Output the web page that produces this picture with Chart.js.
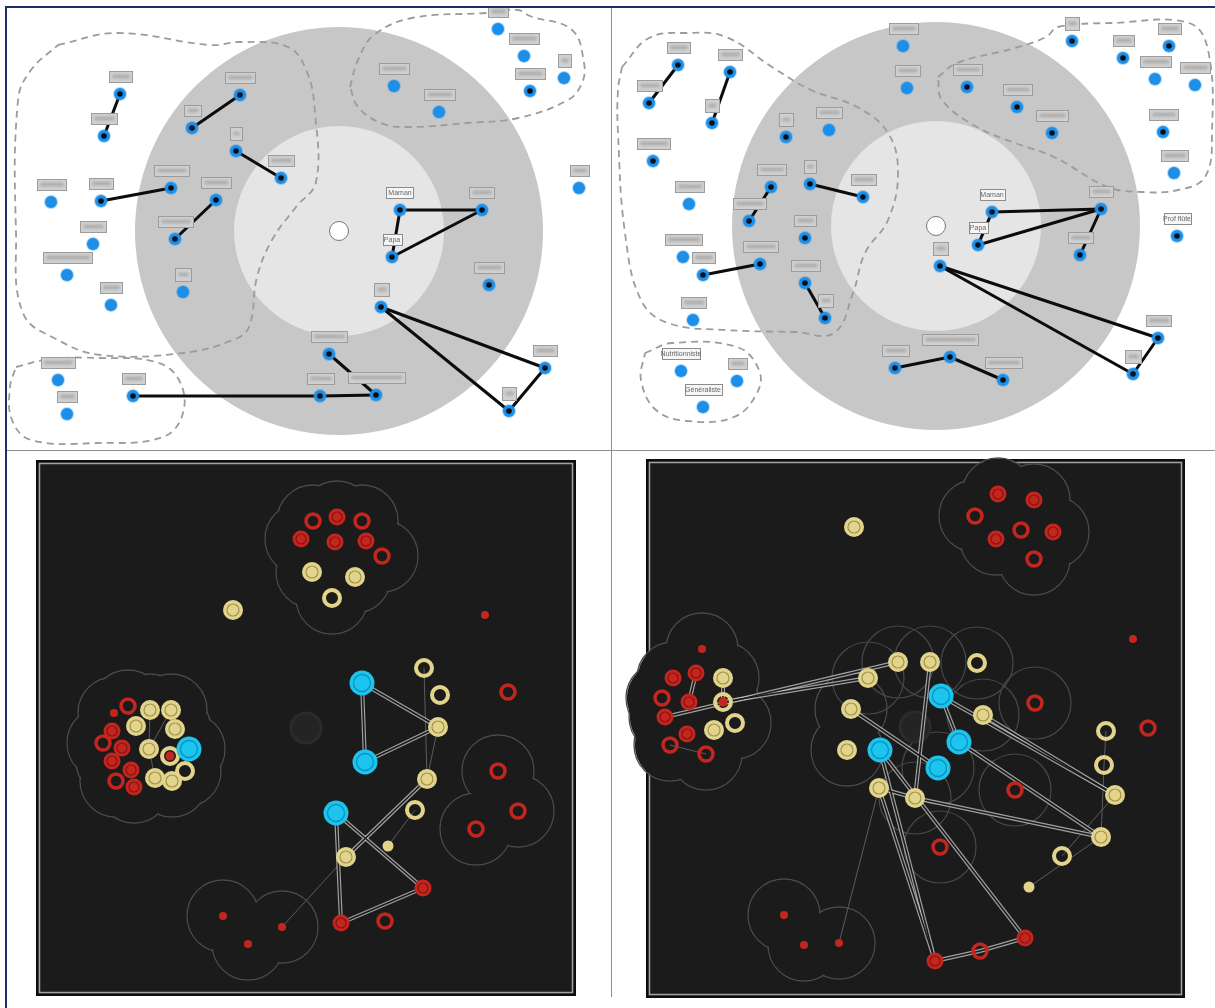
<!DOCTYPE html>
<html>
<head>
<meta charset="utf-8">
<script src="https://cdn.jsdelivr.net/npm/chart.js@4.4.1/dist/chart.umd.min.js"></script>
<style>
  body { margin: 0; background: #fff; width: 1215px; height: 1008px; position: relative; overflow: hidden; }
  canvas { position: absolute; }
  .rule { position: absolute; background: #8e8e8e; }
</style>
</head>
<body>
<canvas id="tl" width="610" height="450" style="left:0;top:0"></canvas>
<canvas id="tr" width="603" height="450" style="left:612px;top:0"></canvas>
<canvas id="bl" width="610" height="556" style="left:0;top:452px"></canvas>
<canvas id="br" width="603" height="556" style="left:612px;top:452px"></canvas>
<div class="rule" style="left:5px;top:6px;width:1210px;height:2px;background:#1b2f6b"></div>
<div class="rule" style="left:5px;top:6px;width:2px;height:1002px;background:#1b2f6b"></div>
<div class="rule" style="left:611px;top:8px;width:1px;height:989px"></div>
<div class="rule" style="left:7px;top:450px;width:1208px;height:1px"></div>
<script>
// --------- Top-left map (first interview) ---------
const tlDisc = [339, 231, 204, 105];   // centre x, centre y, outer radius, inner radius
// x, y, 1 = linked node (dark centre)
const tlNodes = [
  [120, 94, 1], [104, 136, 1], [240, 95, 1], [192, 128, 1], [236, 151, 1],
  [281, 178, 1], [171, 188, 1], [101, 201, 1], [216, 200, 1], [175, 239, 1],
  [400, 210, 1], [482, 210, 1], [392, 257, 1], [489, 285, 1], [381, 307, 1],
  [545, 368, 1], [509, 411, 1], [329, 354, 1], [376, 395, 1], [320, 396, 1],
  [133, 396, 1], [530, 91, 1], [51, 202, 0], [93, 244, 0], [67, 275, 0],
  [111, 305, 0], [183, 292, 0], [58, 380, 0], [67, 414, 0], [498, 29, 0],
  [524, 56, 0], [564, 78, 0], [394, 86, 0], [439, 112, 0], [579, 188, 0]
];
const tlLinks = [[0, 1], [2, 3], [4, 5], [6, 7], [8, 9], [10, 11], [11, 12], [10, 12],
  [14, 15], [14, 16], [15, 16], [17, 18], [20, 19], [19, 18]];
const tlTagWidths = [23, 26, 30, 17, 12, 26, 35, 24, 30, 35, 27, 25, 19, 30, 15, 24, 14, 36,
  57, 27, 23, 30, 29, 26, 49, 22, 16, 34, 20, 20, 30, 13, 30, 31, 19];
const tlTagText = { 10: "Maman", 12: "Papa" };
const tlHulls = [
  [[58, 45], [117, 33], [210, 45], [241, 42], [288, 47], [307, 72], [315, 113], [316, 182],
   [296, 207], [272, 240], [257, 277], [249, 327], [233, 340], [183, 353], [101, 355],
   [58, 340], [23, 313], [16, 233], [18, 100], [31, 70]],
  [[350, 87], [358, 60], [374, 35], [412, 18], [486, 13], [518, 10], [530, 16], [572, 30],
   [584, 63], [582, 83], [568, 100], [518, 118], [467, 123], [409, 127], [381, 123], [358, 107]],
  [[16, 367], [50, 359], [100, 358], [156, 362], [179, 380], [183, 413], [163, 437],
   [97, 443], [31, 440], [12, 420], [10, 387]]
];

// --------- Top-right map (second interview) ---------
const trDisc = [936, 226, 204, 105];
const trNodes = [
  [678, 65, 1], [649, 103, 1], [730, 72, 1], [712, 123, 1], [653, 161, 1],
  [786, 137, 1], [829, 130, 0], [903, 46, 0], [907, 88, 0], [967, 87, 1],
  [1017, 107, 1], [1052, 133, 1], [1072, 41, 1], [1123, 58, 1], [1169, 46, 1],
  [1155, 79, 0], [1195, 85, 0], [1163, 132, 1], [1174, 173, 0], [771, 187, 1],
  [749, 221, 1], [810, 184, 1], [863, 197, 1], [689, 204, 0], [805, 238, 1],
  [683, 257, 0], [703, 275, 1], [760, 264, 1], [805, 283, 1], [825, 318, 1],
  [693, 320, 0], [992, 212, 1], [1101, 209, 1], [978, 245, 1], [1080, 255, 1],
  [940, 266, 1], [1158, 338, 1], [1133, 374, 1], [1177, 236, 1], [895, 368, 1],
  [950, 357, 1], [1003, 380, 1], [681, 371, 0], [737, 381, 0], [703, 407, 0]
];
const trLinks = [[0, 1], [2, 3], [19, 20], [21, 22], [26, 27], [28, 29], [31, 32], [32, 33],
  [31, 33], [32, 34], [35, 36], [35, 37], [36, 37], [39, 40], [40, 41]];
const trTagWidths = [23, 25, 24, 14, 33, 14, 26, 29, 25, 29, 29, 32, 14, 21, 23, 31, 30, 29,
  27, 29, 33, 12, 25, 29, 22, 37, 23, 35, 29, 15, 25, 25, 24, 19, 25, 15, 25, 16, 27, 27,
  56, 37, 38, 19, 37];
const trTagText = { 31: "Maman", 33: "Papa", 38: "Prof flûte", 42: "Nutritionniste", 44: "Généraliste" };
const trHulls = [
  [[622, 67], [649, 38], [687, 33], [726, 37], [772, 67], [811, 90], [857, 107], [888, 133],
   [898, 173], [888, 220], [865, 253], [853, 293], [834, 333], [795, 332], [726, 330],
   [668, 323], [641, 300], [625, 233], [618, 133], [618, 90]],
  [[938, 77], [957, 63], [1015, 48], [1046, 37], [1058, 27], [1112, 23], [1189, 23],
   [1208, 50], [1212, 133], [1205, 177], [1178, 190], [1143, 192], [1108, 187],
   [1054, 157], [1015, 143], [977, 127], [942, 100]],
  [[645, 353], [672, 343], [737, 347], [759, 370], [757, 393], [734, 417], [687, 421],
   [656, 410], [641, 380]]
];

// --------- Bottom-left graph ---------
// kinds: Y yellow, y yellow ring, R red, r red ring, B blue, . red dot, , yellow dot, yr ring with red dot
const blNodes = [
  [337, 517, "R"], [313, 521, "r"], [362, 521, "r"], [301, 539, "R"], [335, 542, "R"],
  [366, 541, "R"], [382, 556, "r"], [312, 572, "Y"], [355, 577, "Y"], [332, 598, "y"],
  [233, 610, "Y"], [485, 615, "."], [128, 706, "r"], [114, 713, "."], [150, 710, "Y"],
  [171, 710, "Y"], [136, 726, "Y"], [175, 729, "Y"], [112, 731, "R"], [103, 743, "r"],
  [122, 748, "R"], [149, 749, "Y"], [170, 756, "yr"], [189, 749, "B"], [112, 761, "R"],
  [131, 770, "R"], [116, 781, "r"], [134, 787, "R"], [155, 778, "Y"], [172, 781, "Y"],
  [185, 771, "y"], [362, 683, "B"], [365, 762, "B"], [336, 813, "B"], [424, 668, "y"],
  [440, 695, "y"], [438, 727, "Y"], [427, 779, "Y"], [415, 810, "y"], [388, 846, ","],
  [346, 857, "Y"], [423, 888, "R"], [341, 923, "R"], [385, 921, "r"], [508, 692, "r"],
  [498, 771, "r"], [518, 811, "r"], [476, 829, "r"], [223, 916, "."], [248, 944, "."],
  [282, 927, "."]
];
const blDouble = [[31, 32], [31, 36], [32, 36], [37, 40], [33, 42], [33, 41], [41, 42]];
const blThin = [[34, 37], [36, 37], [40, 50], [38, 39], [14, 21], [15, 21], [21, 28]];
const blClouds = [[0, 1, 2, 3, 4, 5, 6, 7, 8, 9],
  [12, 13, 14, 15, 16, 17, 18, 19, 20, 21, 22, 23, 24, 25, 26, 27, 28, 29, 30],
  [45, 46, 47], [48, 49, 50]];
const blRings = [];
const blCentre = [306, 728];
const blBox = [36, 460, 576, 996];

// --------- Bottom-right graph ---------
const brNodes = [
  [854, 527, "Y"], [998, 494, "R"], [1034, 500, "R"], [975, 516, "r"], [1021, 530, "r"],
  [1053, 532, "R"], [996, 539, "R"], [1034, 559, "r"], [1133, 639, "."], [1148, 728, "r"],
  [702, 649, "."], [673, 678, "R"], [696, 673, "R"], [723, 678, "Y"], [662, 698, "r"],
  [689, 702, "R"], [723, 702, "yr"], [665, 717, "R"], [735, 723, "y"], [714, 730, "Y"],
  [687, 734, "R"], [670, 745, "r"], [706, 754, "r"], [898, 662, "Y"], [930, 662, "Y"],
  [977, 663, "y"], [868, 678, "Y"], [941, 696, "B"], [851, 709, "Y"], [983, 715, "Y"],
  [959, 742, "B"], [847, 750, "Y"], [880, 750, "B"], [938, 768, "B"], [879, 788, "Y"],
  [915, 798, "Y"], [1035, 703, "r"], [1015, 790, "r"], [940, 847, "r"], [1106, 731, "y"],
  [1104, 765, "y"], [1115, 795, "Y"], [1101, 837, "Y"], [1062, 856, "y"], [1029, 887, ","],
  [784, 915, "."], [804, 945, "."], [839, 943, "."], [935, 961, "R"], [980, 951, "r"],
  [1025, 938, "R"]
];
const brDouble = [[17, 23], [16, 26], [12, 15], [13, 16], [24, 35], [27, 30], [27, 41],
  [29, 41], [30, 42], [35, 42], [28, 33], [32, 48], [34, 48], [32, 50], [34, 35],
  [48, 49], [49, 50]];
const brThin = [[34, 47], [39, 40], [40, 42], [41, 43], [42, 44], [21, 22]];
const brClouds = [[1, 2, 3, 4, 5, 6, 7],
  [10, 11, 12, 13, 14, 15, 16, 17, 18, 19, 20, 21, 22],
  [45, 46, 47], [28, 31]];
const brRings = [23, 24, 25, 26, 29, 33, 35, 36, 37, 38];
const brCentre = [915, 727];
const brBox = [646, 459, 1185, 998];

// --------- Styles ---------
const DARK = "#1b1b1b";
const YEL = "#e2d58b";
const RED = "#c4261f";
const BLUE = "#1bc5f0";

const kindLayers = {
  Y: [{ r: 10, bg: YEL }, { r: 6, bc: "#a09353", bw: 1.2 }],
  y: [{ r: 8, bc: YEL, bw: 4 }],
  R: [{ r: 8.5, bg: RED }, { r: 5, bc: "#83150f", bw: 1.2 }],
  r: [{ r: 7, bc: RED, bw: 3.5 }],
  B: [{ r: 12.5, bg: BLUE }, { r: 8.5, bc: "#0f8fb3", bw: 1.3 }],
  ".": [{ r: 4, bg: RED }],
  ",": [{ r: 5.5, bg: YEL }],
  yr: [{ r: 8, bc: YEL, bw: 4 }, { r: 4.5, bg: RED }]
};

const pt = n => ({ x: n[0], y: n[1] });

function topDatasets(nodes, links, hulls, disc) {
  const ds = [];
  hulls.forEach(h => ds.push({
    data: h.concat([h[0]]).map(pt), showLine: true, tension: 0.4,
    borderColor: "#9c9c9c", borderWidth: 1.8, borderDash: [7, 5], pointRadius: 0, order: 9
  }));
  links.forEach(([a, b]) => ds.push({
    data: [pt(nodes[a]), pt(nodes[b])], showLine: true,
    borderColor: "#0c0c0c", borderWidth: 3, pointRadius: 0, order: 5
  }));
  ds.push({
    data: nodes.map(pt), pointRadius: 6, pointBackgroundColor: "#1d8fe8",
    pointBorderColor: "rgba(29,143,232,0.35)", pointBorderWidth: 2, order: 3
  });
  ds.push({
    data: nodes.filter(n => n[2]).map(pt), pointRadius: 2.8,
    pointBackgroundColor: "#06111c", pointBorderWidth: 0, order: 2
  });
  ds.push({
    data: [{ x: disc[0], y: disc[1] }], pointRadius: 9.5, pointBackgroundColor: "#ffffff",
    pointBorderColor: "#777", pointBorderWidth: 1, order: 1
  });
  return ds;
}

function bottomDatasets(nodes, double, thin, centre) {
  const ds = [];
  ds.push({
    data: [{ x: centre[0], y: centre[1] }], pointRadius: 15, pointBackgroundColor: "#242424",
    pointBorderColor: "#2b2b2b", pointBorderWidth: 3, order: 10
  });
  double.forEach(([a, b]) => {
    ds.push({ data: [pt(nodes[a]), pt(nodes[b])], showLine: true, borderColor: "rgba(205,205,205,0.75)",
      borderWidth: 4, pointRadius: 0, order: 8 });
    ds.push({ data: [pt(nodes[a]), pt(nodes[b])], showLine: true, borderColor: DARK,
      borderWidth: 1.6, pointRadius: 0, order: 7 });
  });
  thin.forEach(([a, b]) => ds.push({
    data: [pt(nodes[a]), pt(nodes[b])], showLine: true, borderColor: "#5c5c5c",
    borderWidth: 1, pointRadius: 0, order: 8
  }));
  Object.keys(kindLayers).forEach(k => {
    const pts = nodes.filter(n => n[2] === k).map(pt);
    if (!pts.length) return;
    kindLayers[k].forEach((s, li) => ds.push({
      data: pts, pointRadius: s.r,
      pointBackgroundColor: s.bg || "rgba(0,0,0,0)",
      pointBorderColor: s.bc || "rgba(0,0,0,0)", pointBorderWidth: s.bw || 0,
      order: 3 - li
    }));
  });
  return ds;
}

// --------- Backgrounds and name tags ---------
function scenery(cfg) {
  return {
    id: "scenery",
    beforeDatasetsDraw(chart) {
      const { ctx } = chart;
      const X = chart.scales.x, Y = chart.scales.y;
      const px = v => X.getPixelForValue(v), py = v => Y.getPixelForValue(v);
      const len = d => Math.abs(px(X.min + d) - px(X.min));
      ctx.save();
      if (cfg.box) {
        const [x0, y0, x1, y1] = cfg.box;
        const l = px(x0), t = py(y0), w = px(x1) - l, h = py(y1) - t;
        ctx.fillStyle = DARK;
        ctx.fillRect(l, t, w, h);
        ctx.strokeStyle = "#0d0d0d"; ctx.lineWidth = 2;
        ctx.strokeRect(l + 1, t + 1, w - 2, h - 2);
        ctx.strokeStyle = "#a2a2a2"; ctx.lineWidth = 1.5;
        ctx.strokeRect(l + 3.5, t + 3.5, w - 7, h - 7);
      }
      if (cfg.disc) {
        const [cx, cy, ro, ri] = cfg.disc;
        ctx.fillStyle = "#c7c7c7";
        ctx.beginPath(); ctx.ellipse(px(cx), py(cy), len(ro), len(ro), 0, 0, Math.PI * 2); ctx.fill();
        ctx.fillStyle = "#e5e5e5";
        ctx.beginPath(); ctx.ellipse(px(cx), py(cy), len(ri), len(ri), 0, 0, Math.PI * 2); ctx.fill();
      }
      const R = len(36);
      (cfg.clouds || []).forEach(g => {
        ctx.strokeStyle = "#4b4b4b"; ctx.lineWidth = 1.3;
        g.forEach(i => {
          ctx.beginPath(); ctx.arc(px(cfg.nodes[i][0]), py(cfg.nodes[i][1]), R, 0, Math.PI * 2); ctx.stroke();
        });
        ctx.fillStyle = DARK;
        g.forEach(i => {
          ctx.beginPath(); ctx.arc(px(cfg.nodes[i][0]), py(cfg.nodes[i][1]), R - 0.8, 0, Math.PI * 2); ctx.fill();
        });
      });
      ctx.strokeStyle = "#474747"; ctx.lineWidth = 1.2;
      (cfg.rings || []).forEach(i => {
        ctx.beginPath(); ctx.arc(px(cfg.nodes[i][0]), py(cfg.nodes[i][1]), R, 0, Math.PI * 2); ctx.stroke();
      });
      ctx.restore();
    },
    afterDatasetsDraw(chart) {
      if (!cfg.tags) return;
      const { ctx } = chart;
      const X = chart.scales.x, Y = chart.scales.y;
      ctx.save();
      ctx.font = '7px "Liberation Sans", Arial, sans-serif';
      ctx.textAlign = "center"; ctx.textBaseline = "middle";
      cfg.tags.forEach((w, i) => {
        const n = cfg.nodes[i];
        const cx = X.getPixelForValue(n[0]), cy = Y.getPixelForValue(n[1] - 17.5);
        const h = w <= 16 ? 13 : 11;
        const l = Math.round(cx - w / 2) + 0.5, t = Math.round(cy - h / 2) + 0.5;
        const text = cfg.texts[i];
        ctx.lineWidth = 1;
        if (text) {
          ctx.fillStyle = "#f6f6f6"; ctx.strokeStyle = "#8c8c8c";
          ctx.fillRect(l, t, w, h); ctx.strokeRect(l, t, w, h);
          ctx.fillStyle = "#676767";
          ctx.fillText(text, cx, cy + 0.5);
        } else {
          ctx.fillStyle = "#d0d0d0"; ctx.strokeStyle = "#9c9c9c";
          ctx.fillRect(l, t, w, h); ctx.strokeRect(l, t, w, h);
          ctx.filter = "blur(1.2px)";
          ctx.fillStyle = "#b0b0b0";
          ctx.fillRect(l + 3, cy - 2, Math.max(w - 6, 3), 4);
          ctx.filter = "none";
        }
      });
      ctx.restore();
    }
  };
}

function panel(id, xr, yr, datasets, cfg) {
  return new Chart(document.getElementById(id), {
    type: "scatter",
    data: { datasets },
    options: {
      responsive: false,
      animation: false,
      devicePixelRatio: 1,
      events: [],
      layout: { padding: 0, autoPadding: false },
      scales: {
        x: { type: "linear", min: xr[0], max: xr[1], display: false },
        y: { type: "linear", min: yr[0], max: yr[1], reverse: true, display: false }
      },
      plugins: { legend: { display: false }, tooltip: { enabled: false } }
    },
    plugins: [scenery(cfg)]
  });
}

// --------- Init ---------
panel("tl", [0, 610], [0, 450], topDatasets(tlNodes, tlLinks, tlHulls, tlDisc),
  { disc: tlDisc, nodes: tlNodes, tags: tlTagWidths, texts: tlTagText });
panel("tr", [612, 1215], [0, 450], topDatasets(trNodes, trLinks, trHulls, trDisc),
  { disc: trDisc, nodes: trNodes, tags: trTagWidths, texts: trTagText });
panel("bl", [0, 610], [452, 1008], bottomDatasets(blNodes, blDouble, blThin, blCentre),
  { box: blBox, nodes: blNodes, clouds: blClouds, rings: blRings });
panel("br", [612, 1215], [452, 1008], bottomDatasets(brNodes, brDouble, brThin, brCentre),
  { box: brBox, nodes: brNodes, clouds: brClouds, rings: brRings });
</script>
</body>
</html>
